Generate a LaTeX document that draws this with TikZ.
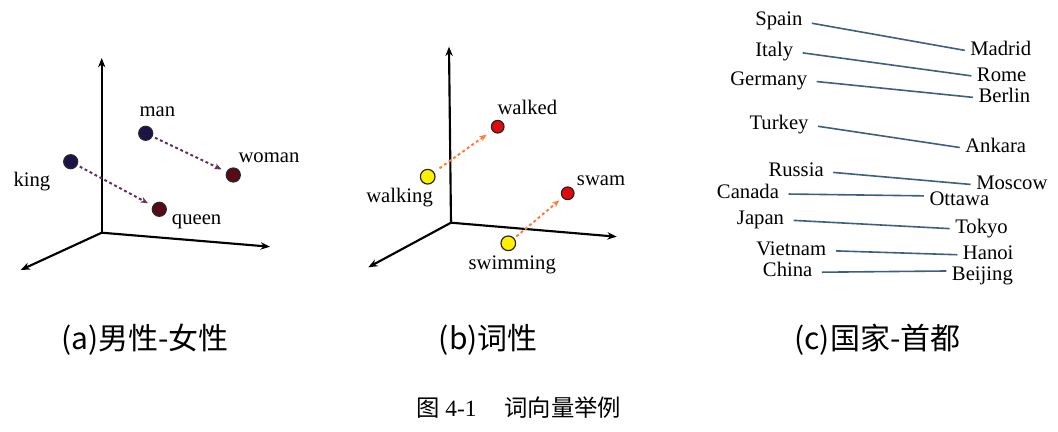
\documentclass[tikz,border=0pt]{standalone}
\usepackage{fontspec}
\setmainfont{Liberation Serif}
\newfontfamily\cjk{Noto Sans CJK SC}
\usetikzlibrary{arrows.meta}

\definecolor{dotblue}{RGB}{28,20,70}
\definecolor{dotdarkred}{RGB}{90,10,20}
\definecolor{dotyellow}{RGB}{255,240,0}
\definecolor{dotred}{RGB}{225,10,10}
\definecolor{vecpurple}{RGB}{100,50,90}
\definecolor{vecorange}{RGB}{255,125,60}
\definecolor{linkblue}{RGB}{60,95,130}

\begin{document}
\begin{tikzpicture}[x=0.75pt,y=-0.75pt,
    axis/.style={line width=1.6pt,-{Stealth[length=7pt,width=5.5pt]}},
    dot/.style={circle,draw=black!85,line width=0.9pt,minimum size=10.5pt,inner sep=0pt},
    word/.style={font=\fontsize{15.5}{18}\selectfont,inner sep=0pt,anchor=base west,
        text height=0.66em,text depth=0pt},
    vec/.style={line width=1.5pt,dash pattern=on 2.2pt off 2pt,-{Stealth[length=5.5pt,width=4.5pt]}},
    link/.style={linkblue,line width=1.2pt,shorten <=7pt,shorten >=4pt},
    subcap/.style={font=\cjk\fontsize{22.5}{26}\selectfont}]
    \useasboundingbox (0,0) rectangle (1058,432);

    % (a) male - female
    \coordinate (Oa) at (101.7,232.7);
    \coordinate (Ya) at (101.7,58);
    \coordinate (Xa) at (270,246.7);
    \coordinate (Za) at (20.7,270);
    \draw[axis] (Oa) -- (Ya);
    \draw[axis] (Oa) -- (Xa);
    \draw[axis] (Oa) -- (Za);
    \node[dot,fill=dotblue] (man) at (145.7,133.3) {};
    \node[dot,fill=dotblue] (king) at (70.7,161.7) {};
    \node[dot,fill=dotdarkred] (woman) at (233.3,175) {};
    \node[dot,fill=dotdarkred] (queen) at (159.3,209.3) {};
    \node[word] (manlbl) at (139.3,116) {man};
    \node[word] (womanlbl) at (238.3,162.7) {woman};
    \node[word] (kinglbl) at (13.3,186.7) {king};
    \node[word] (queenlbl) at (171.7,224) {queen};
    \draw[vec,vecpurple,shorten <=2pt,shorten >=4pt] (man) -- (woman);
    \draw[vec,vecpurple,shorten <=2pt,shorten >=4pt] (king) -- (queen);

    % (b) word forms
    \coordinate (Ob) at (451,222.7);
    \coordinate (Yb) at (449,46.7);
    \coordinate (Xb) at (616.7,236.7);
    \coordinate (Zb) at (368.3,267.3);
    \draw[axis] (Ob) -- (Yb);
    \draw[axis] (Ob) -- (Xb);
    \draw[axis] (Ob) -- (Zb);
    \node[dot,fill=dotred,minimum size=9.5pt] (walked) at (497.7,126.7) {};
    \node[dot,fill=dotyellow,minimum size=11pt] (walking) at (427.7,176.7) {};
    \node[dot,fill=dotred,minimum size=9.5pt] (swam) at (567.7,193.3) {};
    \node[dot,fill=dotyellow,minimum size=11pt] (swimming) at (508.3,243.3) {};
    \node[word] (walkedlbl) at (497.3,114) {walked};
    \node[word] (walkinglbl) at (366,202.3) {walking};
    \node[word] (swamlbl) at (576.7,185) {swam};
    \node[word] (swimminglbl) at (468.3,269.3) {swimming};
    \draw[vec,vecorange,shorten <=5pt,shorten >=5pt] (walking) -- (walked);
    \draw[vec,vecorange,shorten <=2pt,shorten >=3pt] (swimming) -- (swam);

    % (c) country - capital
    \node[word] (Spain) at (755,26) {Spain};
    \node[word] (Madrid) at (970,55.7) {Madrid};
    \node[word] (Italy) at (755,56) {Italy};
    \node[word] (Rome) at (976.7,81) {Rome};
    \node[word] (Germany) at (730,85) {Germany};
    \node[word] (Berlin) at (978.3,102.3) {Berlin};
    \node[word] (Turkey) at (749.3,129.3) {Turkey};
    \node[word] (Ankara) at (965,152.7) {Ankara};
    \node[word] (Russia) at (768.3,176) {Russia};
    \node[word] (Moscow) at (976,189.3) {Moscow};
    \node[word] (Canada) at (716.7,198.3) {Canada};
    \node[word] (Ottawa) at (929.3,205) {Ottawa};
    \node[word] (Japan) at (736.7,224.3) {Japan};
    \node[word] (Tokyo) at (955,233.3) {Tokyo};
    \node[word] (Vietnam) at (756,255) {Vietnam};
    \node[word] (Hanoi) at (962.7,259.3) {Hanoi};
    \node[word] (China) at (762.7,276.7) {China};
    \node[word] (Beijing) at (951.7,280) {Beijing};
    \draw[link] (Spain.east) -- (Madrid.west);
    \draw[link] (Italy.east) -- (Rome.west);
    \draw[link] (Germany.east) -- (Berlin.west);
    \draw[link] (Turkey.east) -- (Ankara.west);
    \draw[link] (Russia.east) -- (Moscow.west);
    \draw[link] (Canada.east) -- (Ottawa.north west);
    \draw[link] (Japan.east) -- (Tokyo.west);
    \draw[link] (Vietnam.east) -- (Hanoi.west);
    \draw[link] (China.east) -- (Beijing.north west);

    % captions
    \node[subcap] (capa) at (145,340) {(a)男性-女性};
    \node[subcap] (capb) at (488.3,340) {(b)词性};
    \node[subcap] (capc) at (877.5,340) {(c)国家-首都};
    \node[font=\cjk\fontsize{17.5}{21}\selectfont] (fig) at (519,408)
        {图 {\rmfamily 4-1}\hspace{1.2em}词向量举例};
\end{tikzpicture}
\end{document}
